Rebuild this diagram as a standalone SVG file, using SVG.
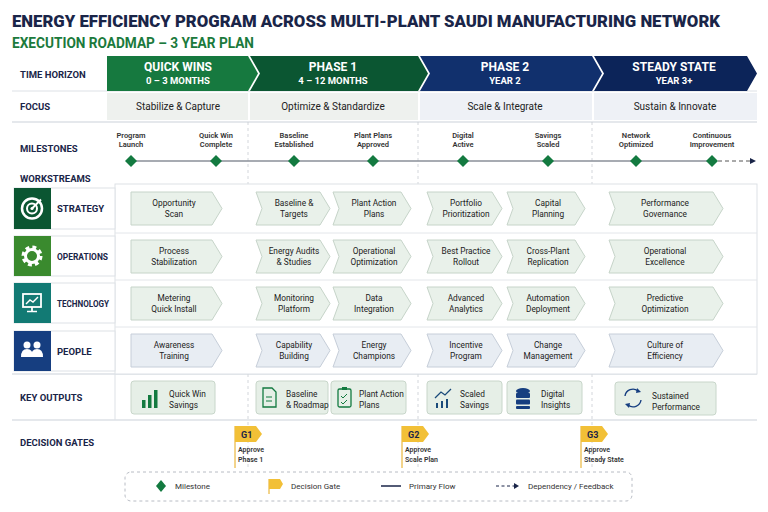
<svg xmlns="http://www.w3.org/2000/svg" width="768" height="512" viewBox="0 0 768 512">
<style>
text{font-family:"Roboto","Liberation Sans",sans-serif}
.t1{font-size:17px;font-weight:900;fill:#1a2548}
.t2{font-size:14px;font-weight:700;fill:#1b7a3c}
.lab{font-size:9.5px;font-weight:700;fill:#1a2548}
.ph{font-size:12px;font-weight:700;fill:#fff}
.ph2{font-size:9.5px;font-weight:700;fill:#fff}
.foc{font-size:10px;fill:#222}
.ms{font-size:7.5px;fill:#333;font-weight:600}
.ws{font-size:8.3px;fill:#222}
.gate{font-size:7px;fill:#333;font-weight:600}
.leg{font-size:8px;fill:#333}
.chev{fill:#e9f1ea;stroke:#c6d4c9;stroke-width:1}
.chevb{fill:#e8edf3;stroke:#c6ced9;stroke-width:1}
.out{fill:#e6efe7;stroke:#c8d6ca;stroke-width:1}
.sep{stroke:#c8ccd2;stroke-width:0.8;stroke-dasharray:3,3}
.row{fill:#fff;stroke:#dde1e6}
.dia{fill:#137a40}
</style>
<rect width="768" height="512" fill="#fff"/>
<text x="12" y="27" class="t1" textLength="708" lengthAdjust="spacingAndGlyphs">ENERGY EFFICIENCY PROGRAM ACROSS MULTI-PLANT SAUDI MANUFACTURING NETWORK</text>
<text x="12" y="48" class="t2" textLength="242" lengthAdjust="spacingAndGlyphs">EXECUTION ROADMAP – 3 YEAR PLAN</text>

<g id="labels">
<text x="20" y="78" class="lab">TIME HORIZON</text>
<text x="20" y="110" class="lab">FOCUS</text>
<text x="20" y="152" class="lab">MILESTONES</text>
<text x="20" y="182" class="lab">WORKSTREAMS</text>
<text x="20" y="401" class="lab">KEY OUTPUTS</text>
<text x="20" y="446" class="lab">DECISION GATES</text>
</g>

<line x1="12" y1="91" x2="757" y2="91" stroke="#dde1e6"/>
<line x1="12" y1="122" x2="757" y2="122" stroke="#dde1e6" stroke-width="1.5"/>
<line x1="12" y1="374" x2="757" y2="374" stroke="#dde1e6" stroke-width="1.5"/>
<line x1="12" y1="420" x2="757" y2="420" stroke="#dde1e6" stroke-width="1.5"/>

<g id="phases">
<polygon points="107,56 248,56 258,73.5 248,91 107,91" fill="#16793f"/>
<polygon points="250,56 418,56 428,73.5 418,91 250,91 260,73.5" fill="#0b5632"/>
<polygon points="420,56 592,56 602,73.5 592,91 420,91 430,73.5" fill="#11306d"/>
<polygon points="594,56 747,56 757,73.5 747,91 594,91 604,73.5" fill="#0c2459"/>
<text x="178" y="71" class="ph" text-anchor="middle">QUICK WINS</text>
<text x="178" y="84" class="ph2" text-anchor="middle">0 – 3 MONTHS</text>
<text x="333" y="71" class="ph" text-anchor="middle">PHASE 1</text>
<text x="333" y="84" class="ph2" text-anchor="middle">4 – 12 MONTHS</text>
<text x="505" y="71" class="ph" text-anchor="middle">PHASE 2</text>
<text x="505" y="84" class="ph2" text-anchor="middle">YEAR 2</text>
<text x="674" y="71" class="ph" text-anchor="middle">STEADY STATE</text>
<text x="674" y="84" class="ph2" text-anchor="middle">YEAR 3+</text>
</g>

<g id="focus">
<rect x="107" y="93" width="141" height="27" fill="#eef1ee"/>
<rect x="250" y="93" width="168" height="27" fill="#eef1ee"/>
<rect x="420" y="93" width="172" height="27" fill="#eef1f6"/>
<rect x="594" y="93" width="163" height="27" fill="#eef1f6"/>
<text x="178" y="110" class="foc" text-anchor="middle">Stabilize &amp; Capture</text>
<text x="333" y="110" class="foc" text-anchor="middle">Optimize &amp; Standardize</text>
<text x="505" y="110" class="foc" text-anchor="middle">Scale &amp; Integrate</text>
<text x="675" y="110" class="foc" text-anchor="middle">Sustain &amp; Innovate</text>
</g>

<g id="separators">
<line x1="248" y1="122" x2="248" y2="470" class="sep"/>
<line x1="418" y1="122" x2="418" y2="470" class="sep"/>
<line x1="592" y1="122" x2="592" y2="470" class="sep"/>
</g>

<g id="connectors">
<line x1="131" y1="161" x2="715" y2="161" stroke="#8a8f99" stroke-width="1.5"/>
<line x1="718" y1="161" x2="750" y2="161" stroke="#555" stroke-width="1" stroke-dasharray="4,3"/>
<polygon points="750,158 756,161 750,164" fill="#1a2548"/>
</g>

<g id="milestones">
<text class="ms" text-anchor="middle"><tspan x="131" y="138">Program</tspan><tspan x="131" y="147">Launch</tspan></text>
<text class="ms" text-anchor="middle"><tspan x="216" y="138">Quick Win</tspan><tspan x="216" y="147">Complete</tspan></text>
<text class="ms" text-anchor="middle"><tspan x="294" y="138">Baseline</tspan><tspan x="294" y="147">Established</tspan></text>
<text class="ms" text-anchor="middle"><tspan x="373" y="138">Plant Plans</tspan><tspan x="373" y="147">Approved</tspan></text>
<text class="ms" text-anchor="middle"><tspan x="463" y="138">Digital</tspan><tspan x="463" y="147">Active</tspan></text>
<text class="ms" text-anchor="middle"><tspan x="548" y="138">Savings</tspan><tspan x="548" y="147">Scaled</tspan></text>
<text class="ms" text-anchor="middle"><tspan x="636" y="138">Network</tspan><tspan x="636" y="147">Optimized</tspan></text>
<text class="ms" text-anchor="middle"><tspan x="712" y="138">Continuous</tspan><tspan x="712" y="147">Improvement</tspan></text>
<g class="dia">
<polygon points="131,155 137,161 131,167 125,161"/>
<polygon points="216,155 222,161 216,167 210,161"/>
<polygon points="294,155 300,161 294,167 288,161"/>
<polygon points="373,155 379,161 373,167 367,161"/>
<polygon points="463,155 469,161 463,167 457,161"/>
<polygon points="548,155 554,161 548,167 542,161"/>
<polygon points="636,155 642,161 636,167 630,161"/>
<polygon points="712,155 718,161 712,167 706,161"/>
</g>
</g>

<rect x="115" y="184" width="642" height="190" fill="#fff" stroke="#dde1e6"/>
<line x1="115" y1="233" x2="757" y2="233" stroke="#e3e6ea"/>
<line x1="115" y1="280" x2="757" y2="280" stroke="#e3e6ea"/>
<line x1="115" y1="327" x2="757" y2="327" stroke="#e3e6ea"/>

<g id="ws-strategy">
<rect x="14" y="188" width="101" height="41" class="row"/>
<rect x="14" y="188" width="37" height="41" fill="#0b5632"/>
<circle cx="32" cy="208.5" r="10" fill="none" stroke="#fff" stroke-width="2.5"/>
<circle cx="32" cy="208.5" r="5" fill="none" stroke="#fff" stroke-width="2"/>
<circle cx="32" cy="208.5" r="1.6" fill="#fff"/>
<line x1="32" y1="208.5" x2="41" y2="199.5" stroke="#fff" stroke-width="2"/>
<text x="57" y="212" class="lab">STRATEGY</text>
</g>
<g id="ws-operations">
<rect x="14" y="236" width="101" height="40" class="row"/>
<rect x="14" y="236" width="37" height="40" fill="#3a8a2e"/>
<circle cx="32" cy="256" r="8" fill="none" stroke="#fff" stroke-width="5" stroke-dasharray="3.5,2.8"/>
<circle cx="32" cy="256" r="6.5" fill="none" stroke="#fff" stroke-width="3"/>
<text x="57" y="260" class="lab" textLength="51" lengthAdjust="spacingAndGlyphs">OPERATIONS</text>
</g>
<g id="ws-technology">
<rect x="14" y="283" width="101" height="40" class="row"/>
<rect x="14" y="283" width="37" height="40" fill="#127a74"/>
<rect x="23" y="294" width="18" height="13" fill="none" stroke="#fff" stroke-width="1.8"/>
<polyline points="26,304 30,300 33,302 38,297" fill="none" stroke="#fff" stroke-width="1.4"/>
<line x1="32" y1="307" x2="32" y2="311" stroke="#fff" stroke-width="1.8"/>
<line x1="27" y1="311.5" x2="37" y2="311.5" stroke="#fff" stroke-width="1.5"/>
<text x="57" y="307" class="lab" textLength="52" lengthAdjust="spacingAndGlyphs">TECHNOLOGY</text>
</g>
<g id="ws-people">
<rect x="14" y="331" width="101" height="40" class="row"/>
<rect x="14" y="331" width="37" height="40" fill="#163e80"/>
<circle cx="27" cy="345" r="3.5" fill="#fff"/><circle cx="37" cy="345" r="3.5" fill="#fff"/>
<path d="M21,357 q0,-8 6,-8 q6,0 6,8 z" fill="#fff"/>
<path d="M31,357 q0,-8 6,-8 q6,0 6,8 z" fill="#fff"/>
<text x="57" y="355" class="lab">PEOPLE</text>
</g>

<g id="activities">
<polygon points="131,192 212,192 222,208.5 212,225 131,225" class="chev"/>
<text class="ws" text-anchor="middle"><tspan x="174" y="206">Opportunity</tspan><tspan x="174" y="217">Scan</tspan></text>
<polygon points="256,192 320,192 330,208.5 320,225 256,225 262,208.5" class="chev"/>
<text class="ws" text-anchor="middle"><tspan x="294" y="206">Baseline &amp;</tspan><tspan x="294" y="217">Targets</tspan></text>
<polygon points="333,192 401,192 411,208.5 401,225 333,225 339,208.5" class="chev"/>
<text class="ws" text-anchor="middle"><tspan x="374" y="206">Plant Action</tspan><tspan x="374" y="217">Plans</tspan></text>
<polygon points="427,192 492,192 502,208.5 492,225 427,225 433,208.5" class="chev"/>
<text class="ws" text-anchor="middle"><tspan x="466" y="206">Portfolio</tspan><tspan x="466" y="217">Prioritization</tspan></text>
<polygon points="507,192 575,192 585,208.5 575,225 507,225 513,208.5" class="chev"/>
<text class="ws" text-anchor="middle"><tspan x="548" y="206">Capital</tspan><tspan x="548" y="217">Planning</tspan></text>
<polygon points="609,192 713,192 723,208.5 713,225 609,225 615,208.5" class="chev"/>
<text class="ws" text-anchor="middle"><tspan x="665" y="206">Performance</tspan><tspan x="665" y="217">Governance</tspan></text>

<polygon points="131,240 212,240 222,256.5 212,273 131,273" class="chev"/>
<text class="ws" text-anchor="middle"><tspan x="174" y="254">Process</tspan><tspan x="174" y="265">Stabilization</tspan></text>
<polygon points="256,240 320,240 330,256.5 320,273 256,273 262,256.5" class="chev"/>
<text class="ws" text-anchor="middle"><tspan x="294" y="254">Energy Audits</tspan><tspan x="294" y="265">&amp; Studies</tspan></text>
<polygon points="333,240 401,240 411,256.5 401,273 333,273 339,256.5" class="chev"/>
<text class="ws" text-anchor="middle"><tspan x="374" y="254">Operational</tspan><tspan x="374" y="265">Optimization</tspan></text>
<polygon points="427,240 492,240 502,256.5 492,273 427,273 433,256.5" class="chev"/>
<text class="ws" text-anchor="middle"><tspan x="466" y="254">Best Practice</tspan><tspan x="466" y="265">Rollout</tspan></text>
<polygon points="507,240 575,240 585,256.5 575,273 507,273 513,256.5" class="chev"/>
<text class="ws" text-anchor="middle"><tspan x="548" y="254">Cross-Plant</tspan><tspan x="548" y="265">Replication</tspan></text>
<polygon points="609,240 713,240 723,256.5 713,273 609,273 615,256.5" class="chev"/>
<text class="ws" text-anchor="middle"><tspan x="665" y="254">Operational</tspan><tspan x="665" y="265">Excellence</tspan></text>

<polygon points="131,287 212,287 222,303.5 212,320 131,320" class="chev"/>
<text class="ws" text-anchor="middle"><tspan x="174" y="301">Metering</tspan><tspan x="174" y="312">Quick Install</tspan></text>
<polygon points="256,287 320,287 330,303.5 320,320 256,320 262,303.5" class="chev"/>
<text class="ws" text-anchor="middle"><tspan x="294" y="301">Monitoring</tspan><tspan x="294" y="312">Platform</tspan></text>
<polygon points="333,287 401,287 411,303.5 401,320 333,320 339,303.5" class="chev"/>
<text class="ws" text-anchor="middle"><tspan x="374" y="301">Data</tspan><tspan x="374" y="312">Integration</tspan></text>
<polygon points="427,287 492,287 502,303.5 492,320 427,320 433,303.5" class="chev"/>
<text class="ws" text-anchor="middle"><tspan x="466" y="301">Advanced</tspan><tspan x="466" y="312">Analytics</tspan></text>
<polygon points="507,287 575,287 585,303.5 575,320 507,320 513,303.5" class="chev"/>
<text class="ws" text-anchor="middle"><tspan x="548" y="301">Automation</tspan><tspan x="548" y="312">Deployment</tspan></text>
<polygon points="609,287 713,287 723,303.5 713,320 609,320 615,303.5" class="chev"/>
<text class="ws" text-anchor="middle"><tspan x="665" y="301">Predictive</tspan><tspan x="665" y="312">Optimization</tspan></text>

<polygon points="131,334 212,334 222,350.5 212,367 131,367" class="chevb"/>
<text class="ws" text-anchor="middle"><tspan x="174" y="348">Awareness</tspan><tspan x="174" y="359">Training</tspan></text>
<polygon points="256,334 320,334 330,350.5 320,367 256,367 262,350.5" class="chevb"/>
<text class="ws" text-anchor="middle"><tspan x="294" y="348">Capability</tspan><tspan x="294" y="359">Building</tspan></text>
<polygon points="333,334 401,334 411,350.5 401,367 333,367 339,350.5" class="chevb"/>
<text class="ws" text-anchor="middle"><tspan x="374" y="348">Energy</tspan><tspan x="374" y="359">Champions</tspan></text>
<polygon points="427,334 492,334 502,350.5 492,367 427,367 433,350.5" class="chevb"/>
<text class="ws" text-anchor="middle"><tspan x="466" y="348">Incentive</tspan><tspan x="466" y="359">Program</tspan></text>
<polygon points="507,334 575,334 585,350.5 575,367 507,367 513,350.5" class="chevb"/>
<text class="ws" text-anchor="middle"><tspan x="548" y="348">Change</tspan><tspan x="548" y="359">Management</tspan></text>
<polygon points="609,334 713,334 723,350.5 713,367 609,367 615,350.5" class="chevb"/>
<text class="ws" text-anchor="middle"><tspan x="665" y="348">Culture of</tspan><tspan x="665" y="359">Efficiency</tspan></text>
</g>

<line x1="115" y1="374" x2="115" y2="420" stroke="#dde1e6"/>
<g id="outputs">
<g id="out-quickwin">
<rect x="131" y="381" width="84" height="33" rx="3" class="out"/>
<rect x="142" y="400" width="3.5" height="8" fill="#137a40"/><rect x="148" y="395" width="3.5" height="13" fill="#137a40"/><rect x="154" y="390" width="3.5" height="18" fill="#137a40"/>
<text class="ws" x="169" y="397">Quick Win</text><text class="ws" x="169" y="408">Savings</text>
</g>
<g id="out-baseline">
<rect x="256" y="381" width="72" height="33" rx="3" class="out"/>
<path d="M263,388 h9 l4,4 v15 h-13 z" fill="none" stroke="#137a40" stroke-width="1.3"/>
<line x1="266" y1="397" x2="272" y2="397" stroke="#137a40"/><line x1="266" y1="401" x2="272" y2="401" stroke="#137a40"/>
<text class="ws" x="286" y="397">Baseline</text><text class="ws" x="286" y="408">&amp; Roadmap</text>
</g>
<g id="out-plans">
<rect x="331" y="381" width="75" height="33" rx="3" class="out"/>
<rect x="338" y="389" width="13" height="18" rx="1.5" fill="none" stroke="#137a40" stroke-width="1.3"/>
<rect x="342" y="387" width="5" height="3" fill="#137a40"/>
<polyline points="341,396 343,398 347,394" fill="none" stroke="#137a40"/><polyline points="341,402 343,404 347,400" fill="none" stroke="#137a40"/>
<text class="ws" x="359" y="397">Plant Action</text><text class="ws" x="359" y="408">Plans</text>
</g>
<g id="out-scaled">
<rect x="427" y="381" width="75" height="33" rx="3" class="out"/>
<polyline points="435,398 441,392 445,395 451,389" fill="none" stroke="#1a4a7a" stroke-width="1.3"/>
<rect x="436" y="403" width="2" height="5" fill="#1a4a7a"/><rect x="441" y="401" width="2" height="7" fill="#1a4a7a"/><rect x="446" y="399" width="2" height="9" fill="#1a4a7a"/>
<text class="ws" x="460" y="397">Scaled</text><text class="ws" x="460" y="408">Savings</text>
</g>
<g id="out-digital">
<rect x="507" y="381" width="75" height="33" rx="3" class="out"/>
<ellipse cx="523" cy="391" rx="7" ry="3" fill="#163e80"/>
<rect x="516" y="393" width="14" height="5" rx="1" fill="#163e80"/><rect x="516" y="399.5" width="14" height="5" rx="1" fill="#163e80"/><rect x="516" y="406" width="14" height="3" rx="1" fill="#163e80"/>
<text class="ws" x="541" y="397">Digital</text><text class="ws" x="541" y="408">Insights</text>
</g>
<g id="out-sustained">
<rect x="615" y="382" width="101" height="33" rx="3" class="out"/>
<path d="M625,396 a8,8 0 0 1 13,-5" fill="none" stroke="#163e80" stroke-width="1.4"/>
<path d="M641,400 a8,8 0 0 1 -13,5" fill="none" stroke="#163e80" stroke-width="1.4"/>
<polygon points="637,388 641,392 636,393" fill="#163e80"/><polygon points="629,408 625,404 630,403" fill="#163e80"/>
<text class="ws" x="652" y="399">Sustained</text><text class="ws" x="652" y="410">Performance</text>
</g>
</g>

<g id="gates">
<g id="g1">
<line x1="235" y1="426" x2="235" y2="468" stroke="#e6a817" stroke-width="1"/>
<polygon points="235,426 256,426 262,434 256,442 235,442" fill="#f2c037"/>
<text x="241" y="438" font-size="9" font-weight="700" fill="#1a2548">G1</text>
<text class="gate"><tspan x="238" y="452">Approve</tspan><tspan x="238" y="462">Phase 1</tspan></text>
</g>
<g id="g2">
<line x1="402" y1="426" x2="402" y2="468" stroke="#e6a817" stroke-width="1"/>
<polygon points="402,426 423,426 429,434 423,442 402,442" fill="#f2c037"/>
<text x="408" y="438" font-size="9" font-weight="700" fill="#1a2548">G2</text>
<text class="gate"><tspan x="405" y="452">Approve</tspan><tspan x="405" y="462">Scale Plan</tspan></text>
</g>
<g id="g3">
<line x1="581" y1="426" x2="581" y2="468" stroke="#e6a817" stroke-width="1"/>
<polygon points="581,426 602,426 608,434 602,442 581,442" fill="#f2c037"/>
<text x="587" y="438" font-size="9" font-weight="700" fill="#1a2548">G3</text>
<text class="gate"><tspan x="584" y="452">Approve</tspan><tspan x="584" y="462">Steady State</tspan></text>
</g>
</g>

<g id="legend">
<rect x="125" y="472" width="507" height="29" rx="6" fill="#fff" stroke="#b8bcc4" stroke-dasharray="3,3"/>
<polygon points="161,480 166,486 161,492 156,486" fill="#137a40"/>
<text x="175" y="489" class="leg">Milestone</text>
<line x1="269" y1="479" x2="269" y2="494" stroke="#e6a817"/>
<polygon points="269,479 280,479 283,484 280,489 269,489" fill="#f2c037"/>
<text x="291" y="489" class="leg">Decision Gate</text>
<line x1="381" y1="486" x2="401" y2="486" stroke="#1a2548" stroke-width="1.5"/>
<text x="409" y="489" class="leg">Primary Flow</text>
<line x1="496" y1="486" x2="514" y2="486" stroke="#1a2548" stroke-width="1" stroke-dasharray="3,2.5"/>
<polygon points="514,483 519,486 514,489" fill="#1a2548"/>
<text x="528" y="489" class="leg">Dependency / Feedback</text>
</g>
</svg>
